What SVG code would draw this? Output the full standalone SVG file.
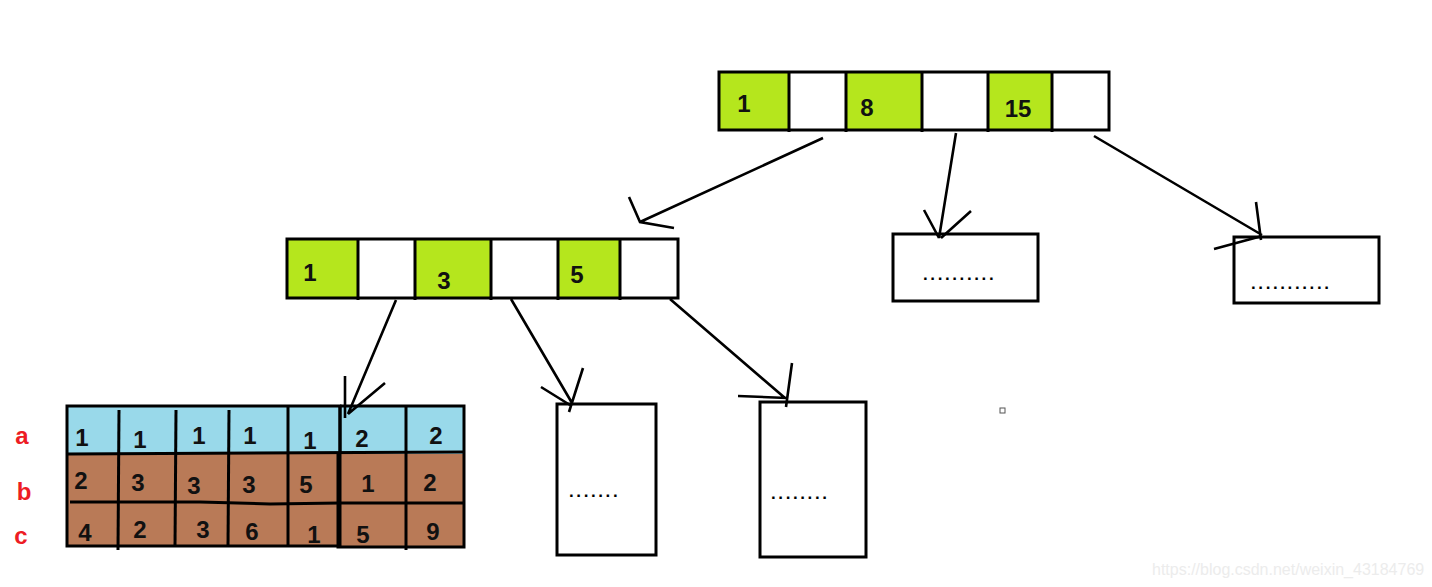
<svg xmlns="http://www.w3.org/2000/svg" width="1432" height="587" viewBox="0 0 1432 587">
<style>
.box{fill:#fff;stroke:#000;stroke-width:3}
.g{fill:#b5e61d}
.w{fill:#fff}
.ln{stroke:#000;stroke-width:3;fill:none}
.cn{stroke:#000;stroke-width:2.6;fill:none;stroke-linecap:butt}
.num{font-family:"Liberation Sans",Arial,sans-serif;font-weight:bold;font-size:24px;fill:#111;text-anchor:middle}
.lab{font-family:"Liberation Sans",Arial,sans-serif;font-weight:bold;font-size:24px;fill:#ed1c24;text-anchor:middle}
.dots{font-family:"Liberation Sans",Arial,sans-serif;font-weight:bold;font-size:17px;fill:#000;letter-spacing:2.6px}
.wm{font-family:"Liberation Sans",Arial,sans-serif;font-size:16px;fill:#ececec}
</style>
<rect width="1432" height="587" fill="#fff"/>

<g id="root-node">
<rect x="719" y="72" width="71" height="58" class="g"/>
<rect x="846" y="72" width="76" height="58" class="g"/>
<rect x="988" y="72" width="64" height="58" class="g"/>
<rect x="719" y="72" width="390" height="58" class="ln"/>
<line x1="789" y1="72" x2="789" y2="132" class="ln"/>
<line x1="846" y1="72" x2="846" y2="132" class="ln"/>
<line x1="922" y1="72" x2="922" y2="132" class="ln"/>
<line x1="988" y1="72" x2="988" y2="132" class="ln"/>
<line x1="1052" y1="72" x2="1052" y2="132" class="ln"/>
<text x="744" y="112" class="num">1</text>
<text x="867" y="116" class="num">8</text>
<text x="1018" y="117" class="num">15</text>
</g>

<g id="inner-node">
<rect x="287" y="239" width="71" height="59" class="g"/>
<rect x="415" y="239" width="76" height="59" class="g"/>
<rect x="558" y="239" width="62" height="59" class="g"/>
<rect x="287" y="239" width="391" height="59" class="ln"/>
<line x1="358" y1="239" x2="358" y2="300" class="ln"/>
<line x1="415" y1="239" x2="415" y2="300" class="ln"/>
<line x1="491" y1="239" x2="491" y2="300" class="ln"/>
<line x1="558" y1="239" x2="558" y2="300" class="ln"/>
<line x1="620" y1="239" x2="620" y2="300" class="ln"/>
<text x="310" y="281" class="num">1</text>
<text x="444" y="289" class="num">3</text>
<text x="577" y="283" class="num">5</text>
</g>

<g id="leaf-mid">
<rect x="893" y="234" width="145" height="67" class="box"/>
<text x="923" y="280" class="dots">..........</text>
</g>

<g id="leaf-right">
<rect x="1234" y="237" width="145" height="66" class="box"/>
<text x="1251" y="289" class="dots">...........</text>
</g>

<g id="leaf-a">
<rect x="557" y="404" width="99" height="151" class="box"/>
<text x="569" y="497" class="dots">.......</text>
</g>

<g id="leaf-b">
<rect x="760" y="402" width="106" height="155" class="box"/>
<text x="771" y="499" class="dots">........</text>
</g>

<g id="data-table">
<rect x="67" y="406" width="397" height="48" fill="#99d9ea"/>
<rect x="67" y="454" width="397" height="92" fill="#b97a57"/>
<rect x="67" y="406" width="273" height="140" class="ln"/>
<path d="M340 406 H464 V547 H338 V454" class="ln"/>
<line x1="67" y1="454" x2="464" y2="452" class="ln"/>
<path d="M70 502 L200 502 L270 504 L340 503 L464 503" class="ln"/>
<line x1="119" y1="410" x2="118" y2="550" class="ln"/>
<line x1="176" y1="410" x2="175" y2="547" class="ln"/>
<line x1="229" y1="410" x2="228" y2="546" class="ln"/>
<line x1="288" y1="406" x2="288" y2="546" class="ln"/>
<line x1="406" y1="406" x2="406" y2="550" class="ln"/>
<line x1="340" y1="406" x2="340" y2="454" class="ln"/>
<text x="82" y="446" class="num">1</text>
<text x="140" y="448" class="num">1</text>
<text x="199" y="444" class="num">1</text>
<text x="250" y="444" class="num">1</text>
<text x="310" y="449" class="num">1</text>
<text x="362" y="447" class="num">2</text>
<text x="436" y="444" class="num">2</text>
<text x="81" y="489" class="num">2</text>
<text x="138" y="491" class="num">3</text>
<text x="194" y="494" class="num">3</text>
<text x="249" y="493" class="num">3</text>
<text x="306" y="493" class="num">5</text>
<text x="368" y="492" class="num">1</text>
<text x="430" y="491" class="num">2</text>
<text x="85" y="541" class="num">4</text>
<text x="140" y="538" class="num">2</text>
<text x="203" y="538" class="num">3</text>
<text x="252" y="540" class="num">6</text>
<text x="314" y="543" class="num">1</text>
<text x="363" y="543" class="num">5</text>
<text x="433" y="540" class="num">9</text>
</g>

<g id="row-labels">
<text x="22" y="444" class="lab">a</text>
<text x="24" y="500" class="lab">b</text>
<text x="21" y="544" class="lab">c</text>
</g>

<g id="connectors">
<path d="M823 138 L640 222 M629 197 L640 222 L674 228" class="cn"/>
<path d="M956 133 L939 238 M924 210 L939 238 M971 211 L941 238" class="cn"/>
<path d="M1094 136 L1262 235 M1256 202 L1261 240 M1214 249 L1262 236" class="cn"/>
<path d="M396 300 L348 414 M345 376 L345 418 M385 383 L348 414" class="cn"/>
<path d="M511 299 L572 403 M583 368 L569 412 M541 387 L570 405" class="cn"/>
<path d="M670 299 L785 398 M792 363 L786 407 M738 396 L787 398" class="cn"/>
</g>

<rect x="1000" y="408" width="5" height="5" fill="#fff" stroke="#555" stroke-width="1"/>
<text x="1152" y="575" class="wm">https://blog.csdn.net/weixin_43184769</text>
</svg>
